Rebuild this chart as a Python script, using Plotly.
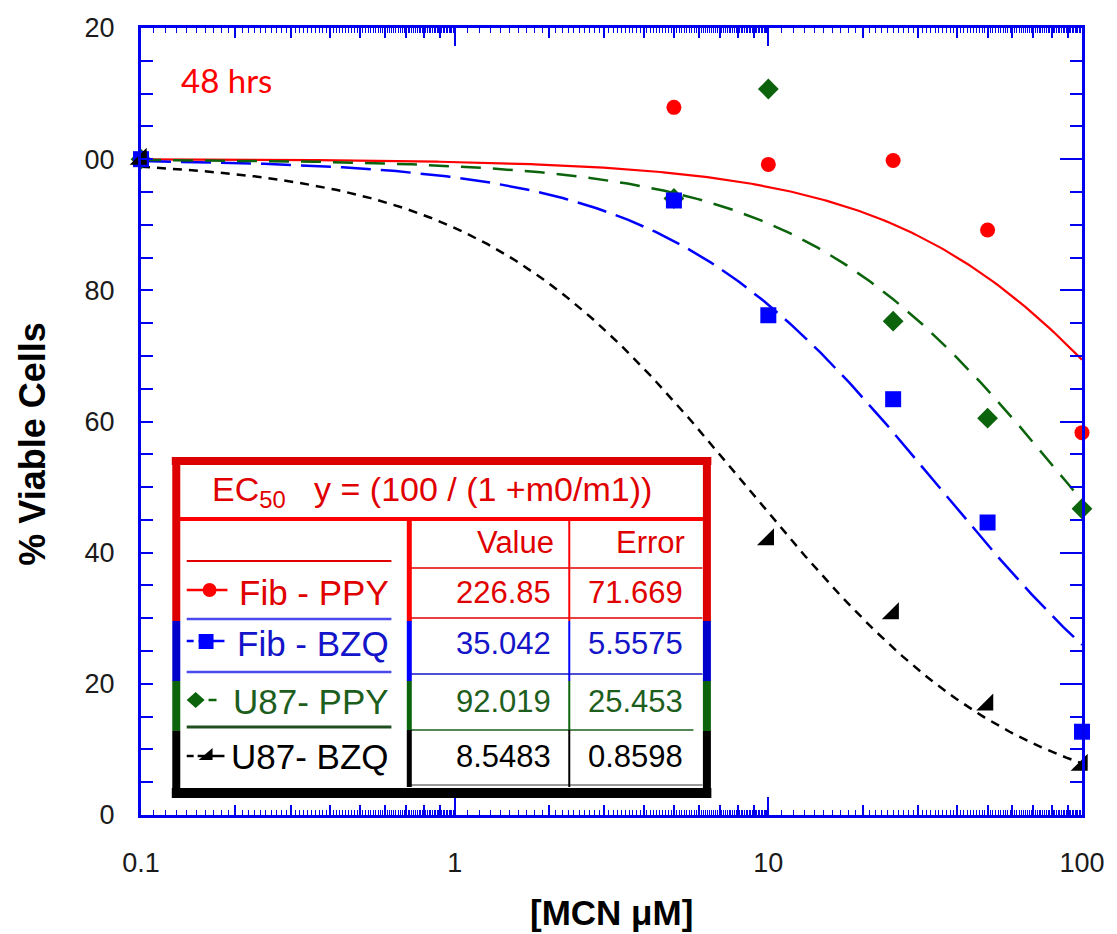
import numpy as np
import plotly.graph_objects as go

# ---- data -------------------------------------------------------------
conc = [0.1, 5, 10, 25, 50, 100]
fib_ppy = [100, 107.9, 99.2, 99.8, 89.2, 58.3]
fib_bzq = [100, 93.7, 76.2, 63.4, 44.6, 12.7]
u87_ppy = [100, 94.0, 110.7, 75.3, 60.5, 46.7]
u87_bzq = [100, None, 42.0, 30.7, 16.8, 7.6]

series_names = ["Fib - PPY", "Fib - BZQ", "U87- PPY", "U87- BZQ"]
ec50_value = [226.85, 35.042, 92.019, 8.5483]
ec50_error = [71.669, 5.5575, 25.453, 0.8598]
ec50_value_text = ["226.85", "35.042", "92.019", "8.5483"]
ec50_error_text = ["71.669", "5.5575", "25.453", "0.8598"]

x_tick_vals = [0.1, 1, 10, 100]
x_tick_text = ["0.1", "1", "10", "100"]
y_tick_vals = [0, 20, 40, 60, 80, 100, 120]
y_tick_text = ["0", "20", "40", "60", "80", "00", "20"]

# ---- styling ----------------------------------------------------------
AX = "#0000ee"
RED = "#ff0000"
BLUE = "#0000ff"
GREEN = "#0b630b"
BLACK = "#000000"
T_RED = "#e00000"
T_BLUE = "#1414c8"
T_GREEN = "#1d5e1d"

W, H = 1117, 934
L, R, T, B = 141, 1088, 28, 815


def px(x):
    return (x - L) / (R - L)


def py(y):
    return (B - y) / (B - T)


fig = go.Figure()

# fitted curves y = 100 / (1 + x / EC50)
xfit = np.logspace(-1, 2, 300)
curve_styles = [
    (RED, "solid", 2.2),
    (BLUE, "30px,10px", 2.5),
    (GREEN, "20px,12px", 2.5),
    (BLACK, "9px,7px", 2.5),
]
for ec, (col, dash, w) in zip(ec50_value, curve_styles):
    fig.add_trace(go.Scatter(
        x=xfit, y=100.0 / (1.0 + xfit / ec), mode="lines",
        line=dict(color=col, width=w, dash=dash),
        hoverinfo="skip", showlegend=False, cliponaxis=False))

# measured points
point_sets = [
    (fib_ppy, "circle", RED, 15),
    (u87_ppy, "diamond", GREEN, 16),
    (fib_bzq, "square", BLUE, 16),
    (u87_bzq, "triangle-se", BLACK, 19),
]
for ys, sym, col, size in point_sets:
    fig.add_trace(go.Scatter(
        x=conc, y=ys, mode="markers",
        marker=dict(symbol=sym, color=col, size=size, line=dict(width=0)),
        showlegend=False, cliponaxis=False))

# carriers for the extra tick axes
fig.add_trace(go.Scatter(x=[None], y=[None], xaxis="x2", showlegend=False,
                         hoverinfo="skip"))
fig.add_trace(go.Scatter(x=[None], y=[None], yaxis="y2", showlegend=False,
                         hoverinfo="skip"))

minor_x = [m * 10.0 ** e for e in (-1, 0, 1) for m in range(2, 10)]
fine_x = [k * 10.0 ** (e - 1) for e in (-1, 0, 1) for k in range(11, 100)
          if k % 10 != 0]

# ---- table (EC50 fit results) -------------------------------------------
shapes = []


def hline(x0, x1, y, color, width):
    shapes.append(dict(type="line", xref="paper", yref="paper",
                       x0=px(x0), x1=px(x1), y0=py(y), y1=py(y),
                       line=dict(color=color, width=width)))


def vline(x, y0, y1, color, width):
    shapes.append(dict(type="line", xref="paper", yref="paper",
                       x0=px(x), x1=px(x), y0=py(y0), y1=py(y1),
                       line=dict(color=color, width=width)))


shapes.append(dict(type="rect", xref="paper", yref="paper",
                   x0=px(172), x1=px(715), y0=py(457), y1=py(798),
                   fillcolor="white", line=dict(width=0)))

# inner grid of the value / error columns
hline(411, 706, 568, T_RED, 1.5)
hline(411, 706, 618, T_RED, 1.5)
hline(411, 706, 674, T_BLUE, 1.5)
hline(411, 697, 730, T_GREEN, 1.5)
hline(411, 706, 785, "#777777", 1.5)
for (y0, y1, col) in [(519, 621, RED), (621, 681, BLUE),
                      (681, 730, GREEN), (730, 787, BLACK)]:
    vline(411, y0, y1, col, 5)
    vline(572, y0, y1, col, 2)

# legend separator lines
hline(187, 393, 561, T_RED, 2)
hline(187, 393, 619, "#4a4af0", 2.5)
hline(187, 393, 672, "#4a4af0", 2.5)
hline(187, 393, 727, "#1f4f1f", 3)

# header separator and outer frame
hline(177, 710, 519, RED, 4)
hline(172, 715, 461, "#dd0000", 8)
for (y0, y1, col) in [(457, 621, "#dd0000"), (621, 681, "#0000cc"),
                      (681, 731, GREEN), (731, 798, BLACK)]:
    vline(176.5, y0, y1, col, 8)
    vline(710.5, y0, y1, col, 8)
hline(172, 715, 793, BLACK, 10)

# legend sample symbols
hline(187, 228, 590, RED, 2.5)
shapes.append(dict(type="circle", xref="paper", yref="paper",
                   x0=px(203), x1=px(217), y0=py(597), y1=py(583),
                   fillcolor=RED, line=dict(width=0)))
hline(187, 194, 641, BLUE, 2.5)
hline(199, 225, 641, BLUE, 2.5)
shapes.append(dict(type="rect", xref="paper", yref="paper",
                   x0=px(199), x1=px(214), y0=py(649), y1=py(634),
                   fillcolor=BLUE, line=dict(width=0)))


def path(points):
    d = "M " + " L ".join(f"{px(a):.5f},{py(b):.5f}" for a, b in points) + " Z"
    return d


shapes.append(dict(type="path", xref="paper", yref="paper",
                   path=path([(187, 700), (196, 692), (205, 700), (196, 708)]),
                   fillcolor=GREEN, line=dict(width=0)))
hline(209, 217, 700, GREEN, 2.5)
hline(187, 194, 756, BLACK, 2.5)
hline(198, 225, 756, BLACK, 2.5)
shapes.append(dict(type="path", xref="paper", yref="paper",
                   path=path([(199, 760), (213, 760), (213, 748)]),
                   fillcolor=BLACK, line=dict(width=0)))

annotations = []


def label(text, x, y, size, color, xanchor="left", bold=False,
          family="Arial", angle=0):
    annotations.append(dict(
        text=f"<b>{text}</b>" if bold else text,
        xref="paper", yref="paper", x=px(x), y=py(y),
        xanchor=xanchor, yanchor="middle", showarrow=False,
        textangle=angle,
        font=dict(family=family, size=size, color=color)))


label("EC<sub>50</sub>\u00a0\u00a0\u00a0y = (100 / (1 +m0/m1))", 210, 491, 34,
      T_RED)
label("Value", 559, 543, 31, T_RED, xanchor="right")
label("Error", 690, 543, 31, T_RED, xanchor="right")
row_y = [592, 643, 701, 756]
name_colors = [T_RED, T_BLUE, T_GREEN, BLACK]
for name, vt, et, yy, col in zip(series_names, ec50_value_text,
                                 ec50_error_text, row_y, name_colors):
    label(name, 393, yy, 35, col, xanchor="right")
    label(vt, 556, yy, 31, col, xanchor="right")
    label(et, 688, yy, 31, col, xanchor="right")

# chart labels
label("48 hrs", 179, 80, 33, RED, family="Lato")
label("% Viable Cells", 31, 444, 36, BLACK, xanchor="center", bold=True,
      angle=-90)
label("[MCN \u03bcM]", 614, 912, 35, BLACK, xanchor="center", bold=True)

tick_font = dict(family="Arial", size=27, color="#1a1a1a")

fig.update_layout(
    width=W, height=H, autosize=False,
    margin=dict(l=L, r=W - R, t=T, b=H - B, pad=0),
    paper_bgcolor="white", plot_bgcolor="white",
    showlegend=False,
    xaxis=dict(
        type="log", range=[-1, 2], showgrid=False, zeroline=False,
        showline=True, linecolor=AX, linewidth=3, mirror="ticks",
        ticks="inside", ticklen=18, tickwidth=2, tickcolor=AX,
        tickmode="array", tickvals=x_tick_vals, ticktext=x_tick_text,
        tickfont=tick_font, ticklabelstandoff=22,
        minor=dict(tickmode="array", tickvals=minor_x, ticks="inside",
                   ticklen=10, tickwidth=2, tickcolor=AX, showgrid=False),
    ),
    xaxis2=dict(
        type="log", range=[-1, 2], overlaying="x", anchor="y", side="bottom",
        showgrid=False, zeroline=False, showline=False, mirror="ticks",
        ticks="inside", ticklen=5, tickwidth=1, tickcolor=AX,
        tickmode="array", tickvals=fine_x, showticklabels=False,
    ),
    yaxis=dict(
        range=[0, 120], showgrid=False, zeroline=False,
        showline=True, linecolor=AX, linewidth=3, mirror="ticks",
        ticks="inside", ticklen=12, tickwidth=2, tickcolor=AX,
        tickmode="array", tickvals=y_tick_vals, ticktext=y_tick_text,
        tickfont=tick_font, ticklabelstandoff=18,
        minor=dict(dtick=5, ticks="inside", ticklen=12, tickwidth=2,
                   tickcolor=AX, showgrid=False),
    ),
    yaxis2=dict(
        range=[0, 120], overlaying="y", anchor="x", side="right",
        showgrid=False, zeroline=False, showline=False,
        ticks="inside", ticklen=22, tickwidth=2, tickcolor=AX,
        tickmode="array", tickvals=y_tick_vals, showticklabels=False,
    ),
    shapes=shapes,
    annotations=annotations,
)

fig.write_html("out.html")
